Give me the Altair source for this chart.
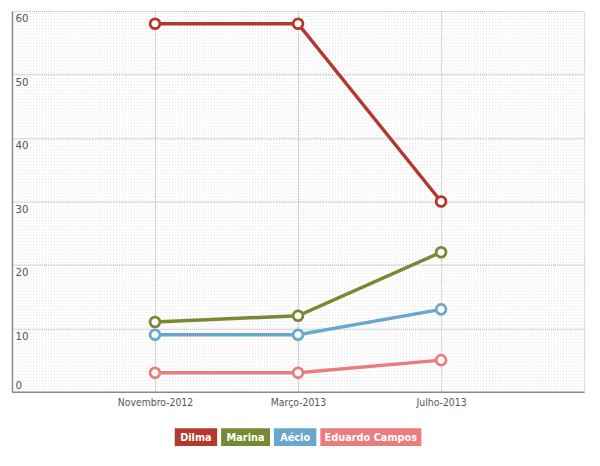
import altair as alt
import pandas as pd

periods = ["Novembro-2012", "Março-2013", "Julho-2013"]
candidates = ["Dilma", "Marina", "Aécio", "Eduardo Campos"]
colors = ["#b3382e", "#768a35", "#6aa7cc", "#ea7d7c"]
dilma = [58, 58, 30]
marina = [11, 12, 22]
aecio = [9, 9, 13]
eduardo = [3, 3, 5]
y_ticks = [0, 10, 20, 30, 40, 50, 60]

series = {"Dilma": dilma, "Marina": marina, "Aécio": aecio, "Eduardo Campos": eduardo}
rows = []
for name, vals in series.items():
    for p, v in zip(periods, vals):
        rows.append({"period": p, "value": v, "candidate": name})
df = pd.DataFrame(rows)

W, H = 580, 386
FONT = "DejaVu Sans Condensed, Liberation Sans Narrow, sans-serif"

color_scale = alt.Scale(domain=candidates, range=colors)

x = alt.X(
    "period:N", sort=periods,
    scale=alt.Scale(type="point", padding=1),
    axis=alt.Axis(title=None, labelFont=FONT, labelFontSize=10.5, labelColor="#555",
                  labelPadding=6, ticks=False, domainColor="#8a8a8a", domainWidth=1.5,
                  grid=True, gridColor="#a8a8a8", gridDash=[1, 1], labelAngle=0),
)
y = alt.Y(
    "value:Q", scale=alt.Scale(domain=[0, 60], nice=False),
    axis=alt.Axis(title=None, values=y_ticks, orient="left", ticks=False,
                  labelAlign="left", labelBaseline="top", labelPadding=-3,
                  labelOffset={"condition": {"test": "datum.value == 0", "value": -12}, "value": 2},
                  labelFlush=False, labelFont=FONT, labelFontSize=11.5, labelColor="#555",
                  domainColor="#8a8a8a", domainWidth=1.5,
                  grid=True, gridColor="#a8a8a8", gridDash=[1, 1]),
)
color = alt.Color("candidate:N", scale=color_scale, legend=None)

lines = alt.Chart(df).mark_line(strokeWidth=3.5).encode(x=x, y=y, color=color)
points = alt.Chart(df).mark_point(shape="circle", fill="white", fillOpacity=1, strokeWidth=2.8,
                                  size=100, opacity=1).encode(x=x, y=y, color=color)
main = alt.layer(lines, points)

texture = alt.Chart(df).mark_point(opacity=0).encode(
    y=alt.Y("value:Q", scale=alt.Scale(domain=[0, H / 3], nice=False),
            axis=alt.Axis(orient="right", values=list(range(0, 129)), labels=False, ticks=False,
                          grid=True, gridColor="#dedede", gridDash=[1, 2], domain=True,
                          domainColor="#bbb", domainDash=[1, 1], title=None))
)

# legend boxes
widths = [6.6 * len(c) + 10 for c in candidates]
gap = 4
total = sum(widths) + gap * (len(widths) - 1)
start = W / 2 - total / 2
x0s, x1s = [], []
cur = start
for w in widths:
    x0s.append(cur)
    x1s.append(cur + w)
    cur += w + gap
legend_df = pd.DataFrame({"candidate": candidates, "x0": x0s, "x1": x1s,
                          "xm": [(a + b) / 2 for a, b in zip(x0s, x1s)]})

leg_rect = alt.Chart(legend_df).mark_rect().encode(
    x=alt.X("x0:Q", scale=None), x2="x1",
    y=alt.value(H + 37), y2=alt.value(H + 55),
    color=color,
)
leg_text = alt.Chart(legend_df).mark_text(color="white", fontWeight="bold", fontSize=11,
                                          font=FONT, baseline="middle").encode(
    x=alt.X("xm:Q", scale=None), y=alt.value(H + 46.5), text="candidate:N"
)

chart = alt.layer(texture, main, leg_rect, leg_text).resolve_scale(
    x="independent", y="independent"
).properties(
    width=W, height=H,
    padding={"left": 4, "top": 0, "right": 8, "bottom": 70},
    autosize=alt.AutoSizeParams(type="none"),
).configure_view(stroke=None)

chart.save("out.html", embed_options={"renderer": "svg", "actions": False})
